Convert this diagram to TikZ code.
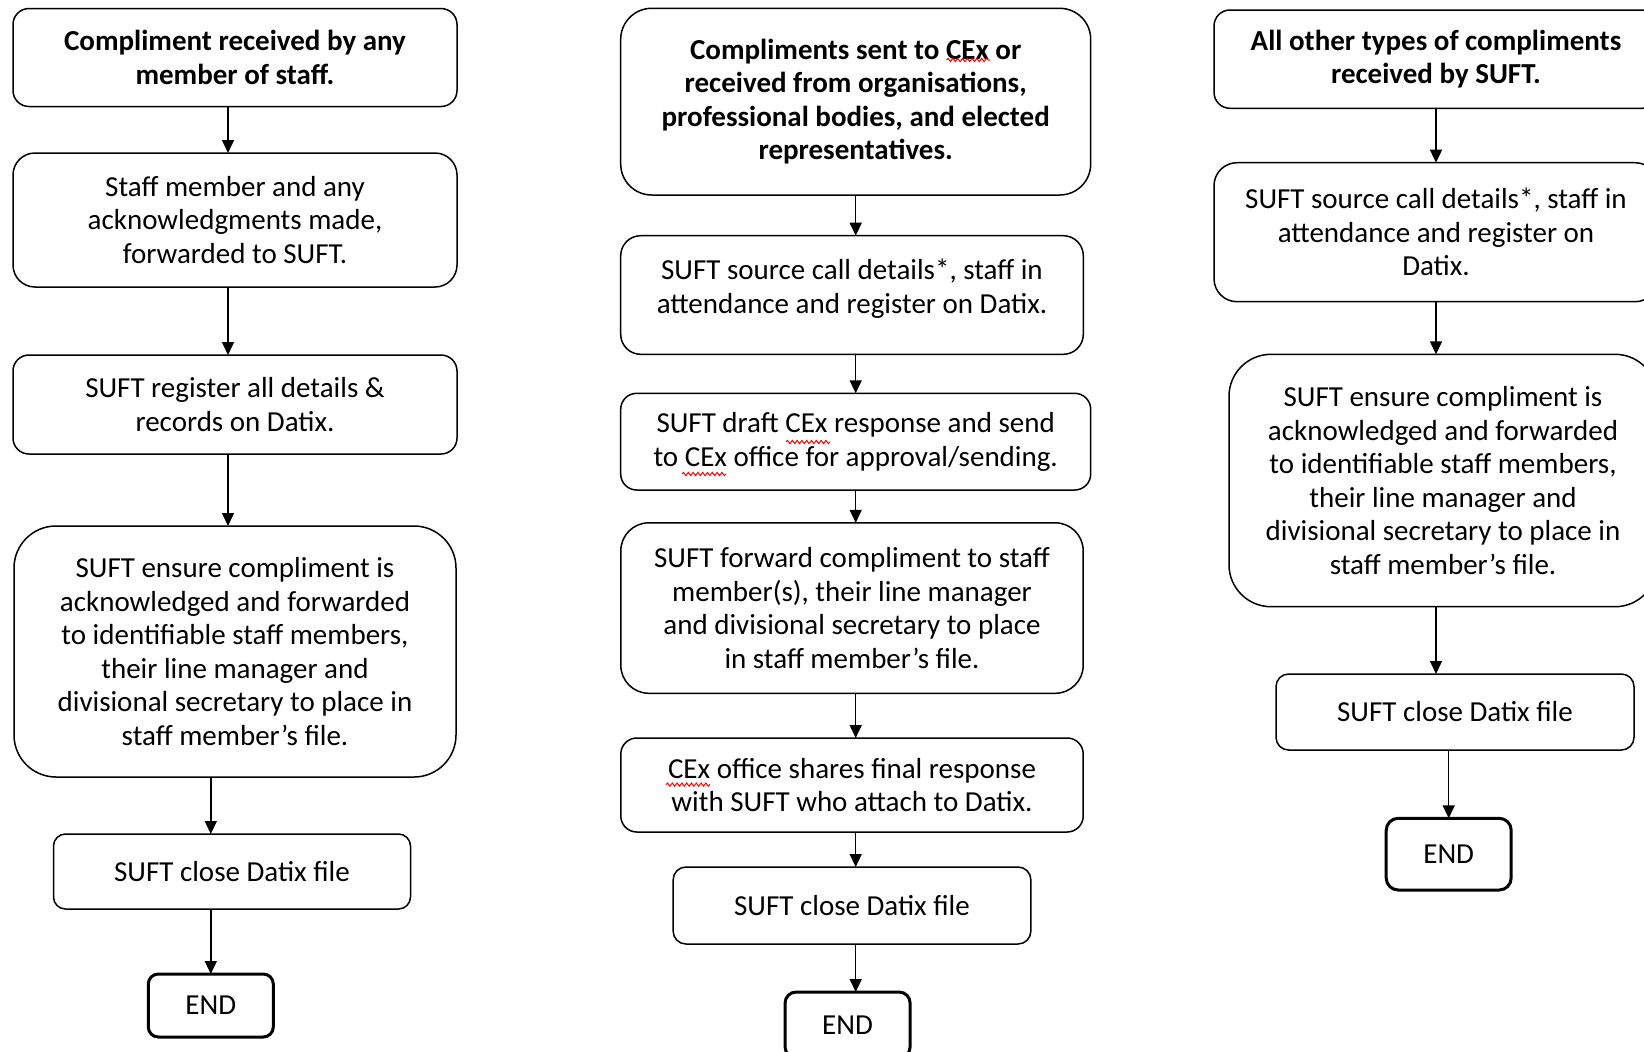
\documentclass[tikz,border=0pt]{standalone}
\usepackage{fontspec}
\setmainfont{Carlito}
\usetikzlibrary{arrows.meta,positioning,decorations.pathmorphing}

\begin{document}
\begin{tikzpicture}[
    node distance=20pt,
    box/.style={rectangle, draw, line width=0.75pt, align=center, inner sep=0pt, outer sep=0pt, font=\fontsize{14.5pt}{16.8pt}\selectfont},
    head/.style={box, font=\fontsize{14.5pt}{16.8pt}\selectfont\bfseries},
    endbox/.style={box, line width=1.5pt, minimum width=62.5pt},
    line/.style={draw, line width=0.75pt, -{Triangle[length=6.5pt, width=6pt]}},
    spell/.style={red, line width=0.5pt, decorate, decoration={snake, amplitude=0.8pt, segment length=2.4pt}}
]
\useasboundingbox (0,0) rectangle (822pt,-525.5pt);
\clip (0,0) rectangle (822pt,-525.5pt);

% Column 1
\node [head, anchor=north, minimum width=222pt, minimum height=49pt, rounded corners=8pt] (c1a) at (117.5pt,-4.25pt) {Compliment received by any\\member of staff.};
\node [box, below=23.25pt of c1a, minimum width=222pt, minimum height=67pt, rounded corners=11pt] (c1b) {Staff member and any\\acknowledgments made,\\forwarded to SUFT.};
\node [box, below=34pt of c1b, minimum width=222pt, minimum height=49.5pt, rounded corners=8pt] (c1c) {SUFT register all details \&\\records on Datix.};
\node [box, below=36pt of c1c, minimum width=221pt, minimum height=125.5pt, rounded corners=21pt] (c1d) {SUFT ensure compliment is\\acknowledged and forwarded\\to identifiable staff members,\\their line manager and\\divisional secretary to place in\\staff member’s file.};
\node [box, below=28.5pt of c1d, xshift=-1.5pt, minimum width=178.5pt, minimum height=37.5pt, rounded corners=6pt] (c1e) {SUFT close Datix file};
\node [endbox, below=32.5pt of c1e, xshift=-10.6pt, minimum height=31.5pt, rounded corners=5pt] (c1end) {END};

% Column 2
\node [head, anchor=north, minimum width=235pt, minimum height=93.35pt, rounded corners=15.5pt] (c2a) at (427.85pt,-4.15pt) {Compliments sent to CEx or\\received from organisations,\\professional bodies, and elected\\representatives.};
\node [box, below=20.35pt of c2a, xshift=-1.85pt, minimum width=231.3pt, minimum height=59.3pt, rounded corners=10pt] (c2b) {SUFT source call details*, staff in\\attendance and register on Datix.\rule[-9pt]{0pt}{0pt}};
\node [box, below=19.5pt of c2b, xshift=1.85pt, minimum width=235pt, minimum height=48.35pt, rounded corners=8pt] (c2c) {SUFT draft CEx response and send\\to CEx office for approval/sending.};
\node [box, below=16.4pt of c2c, xshift=-1.85pt, minimum width=231.2pt, minimum height=85.25pt, rounded corners=14pt] (c2d) {SUFT forward compliment to staff\\member(s), their line manager\\and divisional secretary to place\\in staff member’s file.};
\node [box, below=22.35pt of c2d, minimum width=231.2pt, minimum height=47pt, rounded corners=8pt] (c2e) {CEx office shares final response\\with SUFT who attach to Datix.};
\node [box, below=17.5pt of c2e, minimum width=178.85pt, minimum height=38.5pt, rounded corners=6.4pt] (c2f) {SUFT close Datix file};
\node [endbox, below=24pt of c2f, xshift=-2.2pt, minimum height=33pt, rounded corners=5.5pt] (c2end) {END};

% spell-check marks under CEx
\draw [spell] (473.3pt,-30pt) -- (495pt,-30pt);
\draw [spell] (393pt,-221pt) -- (415pt,-221pt);
\draw [spell] (341pt,-237pt) -- (363pt,-237pt);
\draw [spell] (333pt,-392.3pt) -- (355pt,-392.3pt);

% Column 3
\node [head, anchor=north, minimum width=222pt, minimum height=49.15pt, rounded corners=8pt] (c3a) at (718pt,-5pt) {All other types of compliments\\received by SUFT.};
\node [box, below=27.2pt of c3a, minimum width=222pt, minimum height=69.5pt, rounded corners=11.5pt] (c3b) {SUFT source call details*, staff in\\attendance and register on\\Datix.};
\node [box, below=26.3pt of c3b, xshift=3.5pt, minimum width=214pt, minimum height=126.2pt, rounded corners=21pt] (c3c) {SUFT ensure compliment is\\acknowledged and forwarded\\to identifiable staff members,\\their line manager and\\divisional secretary to place in\\staff member’s file.};
\node [box, below=33.65pt of c3c, xshift=6pt, minimum width=179pt, minimum height=38pt, rounded corners=6.3pt] (c3d) {SUFT close Datix file};
\node [endbox, below=34.15pt of c3d, xshift=-3.15pt, minimum height=35.85pt, rounded corners=6pt] (c3end) {END};

% Connections - column 1
\draw [line] ([xshift=-3.5pt]c1a.south) -- ([xshift=-3.5pt]c1a.south |- c1b.north);
\draw [line] ([xshift=-3.5pt]c1b.south) -- ([xshift=-3.5pt]c1b.south |- c1c.north);
\draw [line] ([xshift=-3.5pt]c1c.south) -- ([xshift=-3.5pt]c1c.south |- c1d.north);
\draw [line] (c1end |- c1d.south) -- (c1end |- c1e.north);
\draw [line] (c1end |- c1e.south) -- (c1end.north);

% Connections - column 2
\draw [line] (c2a.south) -- (c2a.south |- c2b.north);
\draw [line] (c2a.south |- c2b.south) -- (c2a.south |- c2c.north);
\draw [line] (c2a.south |- c2c.south) -- (c2a.south |- c2d.north);
\draw [line] (c2a.south |- c2d.south) -- (c2a.south |- c2e.north);
\draw [line] (c2a.south |- c2e.south) -- (c2a.south |- c2f.north);
\draw [line] (c2a.south |- c2f.south) -- (c2a.south |- c2end.north);

% Connections - column 3
\draw [line] (c3a.south) -- (c3a.south |- c3b.north);
\draw [line] (c3b.south) -- (c3b.south |- c3c.north);
\draw [line] (c3a.south |- c3c.south) -- (c3a.south |- c3d.north);
\draw [line] (c3end |- c3d.south) -- (c3end.north);

\end{tikzpicture}
\end{document}
